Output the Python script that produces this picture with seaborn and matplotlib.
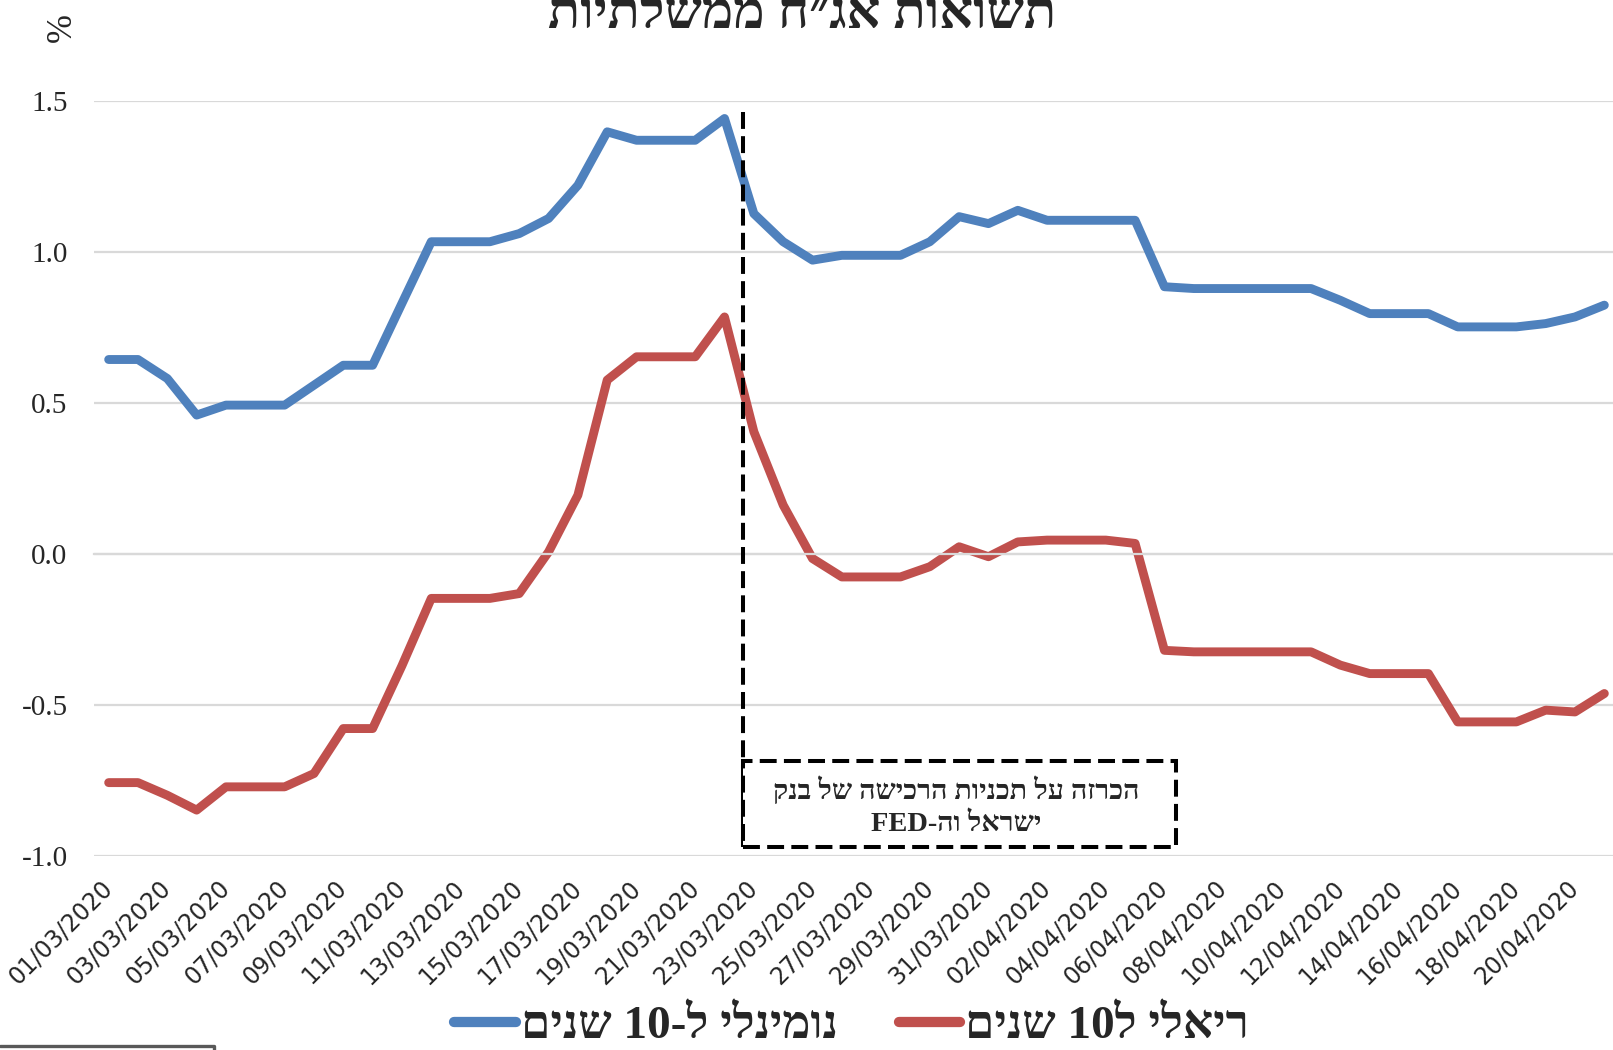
import re

import matplotlib

matplotlib.use("Agg")

import matplotlib.pyplot as plt
import numpy as np
import pandas as pd
import seaborn as sns
from matplotlib.lines import Line2D
from matplotlib.patches import Rectangle

# daily category axis, 01/03/2020 - 21/04/2020
dates = pd.date_range("2020-03-01", "2020-04-21", freq="D")

nominal_10y = [
    0.644, 0.644, 0.581, 0.460, 0.493, 0.493, 0.493, 0.559, 0.625, 0.625,
    0.830, 1.034, 1.034, 1.034, 1.061, 1.111, 1.221, 1.398, 1.370, 1.370,
    1.370, 1.442, 1.127, 1.034, 0.973, 0.989, 0.989, 0.989, 1.034, 1.117,
    1.094, 1.138, 1.105, 1.105, 1.105, 1.105, 0.885, 0.879, 0.879, 0.879,
    0.879, 0.879, 0.840, 0.796, 0.796, 0.796, 0.752, 0.752, 0.752, 0.763,
    0.785, 0.824,
]
real_10y = [
    -0.757, -0.757, -0.799, -0.848, -0.771, -0.771, -0.771, -0.727, -0.578, -0.578,
    -0.370, -0.147, -0.147, -0.147, -0.131, 0.007, 0.195, 0.576, 0.653, 0.653,
    0.653, 0.785, 0.405, 0.162, -0.015, -0.076, -0.076, -0.076, -0.042, 0.024,
    -0.009, 0.040, 0.046, 0.046, 0.046, 0.035, -0.319, -0.324, -0.324, -0.324,
    -0.324, -0.324, -0.368, -0.396, -0.396, -0.396, -0.556, -0.556, -0.556, -0.517,
    -0.523, -0.462,
]

series_names = ["נומינלי ל-10 שנים", "ריאלי ל10 שנים"]
series_colors = ["#4F81BD", "#C0504D"]
title = "תשואות אג״ח ממשלתיות"
note_lines = ["הכרזה על תכניות הרכישה של בנק", "ישראל וה-FED"]
yticks = [-1.0, -0.5, 0.0, 0.5, 1.0, 1.5]

# announcement marker (category position) and note box extent
event_x = 21.62
box_x = (21.62, 36.38)
box_y = (-0.971, -0.687)


def rtl(s):
    # matplotlib has no bidi support: flip to visual order, keep latin/digit runs LTR
    s = s[::-1]
    return re.sub(r"[A-Za-z0-9.]+", lambda m: m.group(0)[::-1], s)


sns.set_style("white")
plt.rcParams["font.family"] = ["Liberation Serif", "DejaVu Sans"]

df = pd.DataFrame({
    "x": np.arange(len(dates)),
    series_names[0]: nominal_10y,
    series_names[1]: real_10y,
})
long_df = df.melt(id_vars="x", var_name="series", value_name="value")

fig = plt.figure(figsize=(16.13, 10.5), dpi=100)
ax = fig.add_axes([94 / 1613, 1 - 856 / 1050, 1525 / 1613, 755 / 1050])

sns.lineplot(
    data=long_df,
    x="x",
    y="value",
    hue="series",
    hue_order=series_names,
    palette=series_colors,
    linewidth=6.4,
    legend=False,
    ax=ax,
    solid_capstyle="round",
    solid_joinstyle="round",
)

ax.set_xlim(-0.5, len(dates) - 0.5)
ax.set_ylim(-1.0, 1.5)
ax.set_xlabel("")
ax.set_ylabel("")
for s in ax.spines.values():
    s.set_visible(False)

ax.set_yticks(yticks)
ax.set_yticklabels([f"{v:.1f}" for v in yticks])
ax.yaxis.grid(True, color="#D9D9D9", linewidth=1.6)
ax.set_axisbelow(True)
ax.tick_params(axis="y", length=0, pad=19, labelsize=21)

# category boundary ticks on the zero line
ax.spines["bottom"].set_visible(True)
ax.spines["bottom"].set_position(("data", 0))
ax.spines["bottom"].set_color("#D9D9D9")
ax.spines["bottom"].set_linewidth(1.6)
ax.set_xticks(np.arange(-0.5, len(dates), 2))
ax.tick_params(axis="x", length=6, width=1.6, color="#D9D9D9", labelbottom=False)

# date labels at the bottom
sec = ax.secondary_xaxis("bottom")
sec.set_xticks(np.arange(0, len(dates), 2))
sec.set_xticklabels(
    dates[::2].strftime("%d/%m/%Y"),
    rotation=45,
    ha="right",
    va="center",
    rotation_mode="anchor",
    fontfamily="DejaVu Sans",
    fontsize=17,
)
sec.tick_params(length=0, pad=20)
for s in sec.spines.values():
    s.set_visible(False)

# announcement line and note
ax.plot([event_x, event_x], [1.465, box_y[0]], color="black", linewidth=2.9,
        linestyle=(0, (4.2, 1.8)), zorder=5)
ax.add_patch(Rectangle((box_x[0], box_y[0]), box_x[1] - box_x[0], box_y[1] - box_y[0],
                       facecolor="white", edgecolor="black", linewidth=2.9,
                       linestyle=(0, (4.2, 1.8)), zorder=5))
ax.text(28.9, -0.783, rtl(note_lines[0]), ha="center", va="center",
        fontsize=20.5, fontweight="bold", zorder=6)
ax.text(28.9, -0.896, rtl(note_lines[1]), ha="center", va="center",
        fontsize=20.5, fontweight="bold", zorder=6)

fig.text(0.4975, 0.973, rtl(title), ha="center", va="baseline",
         fontsize=38, fontweight="bold")
fig.text(62 / 1613, 1 - 28 / 1050, "%", rotation=90, ha="center", va="center",
         fontsize=25)

handles = [Line2D([], [], color=c, linewidth=7.4, solid_capstyle="round")
           for c in series_colors]
fig.legend(
    handles,
    [rtl(n) for n in series_names],
    loc="center",
    bbox_to_anchor=(0.528, 0.022),
    ncol=2,
    frameon=False,
    prop={"family": ["Liberation Serif", "DejaVu Sans"], "weight": "bold", "size": 34},
    handlelength=1.3,
    handletextpad=0.1,
    columnspacing=1.3,
)

# fragment of a neighbouring frame at the bottom-left corner
fig.add_artist(Line2D([0, 214 / 1613, 214 / 1613], [1 - 1046 / 1050, 1 - 1046 / 1050, 0],
                      color="#595959", linewidth=2.4, transform=fig.transFigure))

fig.savefig("out.png", dpi=100)
